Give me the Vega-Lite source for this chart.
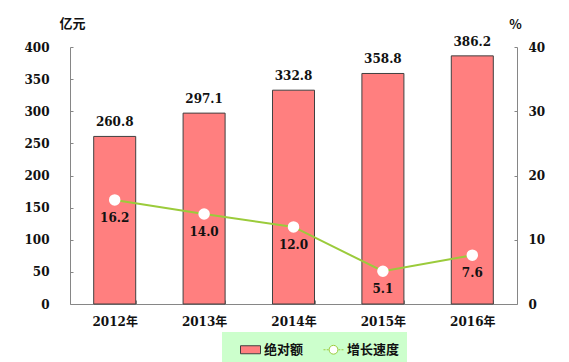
{
  "$schema": "https://vega.github.io/schema/vega-lite/v6.json",
  "width": 447,
  "height": 257,
  "autosize": "none",
  "padding": {"left": 70, "top": 47, "right": 52, "bottom": 58},
  "background": "white",
  "data": {"values": [
    {"year": "2012年", "amount": 260.8, "rate": 16.2},
    {"year": "2013年", "amount": 297.1, "rate": 14.0},
    {"year": "2014年", "amount": 332.8, "rate": 12.0},
    {"year": "2015年", "amount": 358.8, "rate": 5.1},
    {"year": "2016年", "amount": 386.2, "rate": 7.6}
  ]},
  "encoding": {
    "x": {
      "field": "year", "type": "nominal", "sort": null,
      "scale": {"paddingInner": 0.53, "paddingOuter": 0.265},
      "axis": {"title": null, "labelAngle": 0, "tickBand": "extent", "tickSize": -4, "labelPadding": 16}
    }
  },
  "layer": [
    {
      "encoding": {
        "y": {
          "field": "amount", "type": "quantitative",
          "scale": {"domain": [0, 400]},
          "axis": {
            "orient": "left", "values": [0, 50, 100, 150, 200, 250, 300, 350, 400],
            "tickSize": -3, "labelPadding": 24,
            "title": "亿元", "titleAngle": 0, "titleX": 2, "titleY": -24,
            "titleAlign": "center", "titleBaseline": "middle"
          }
        }
      },
      "layer": [
        {
          "mark": {"type": "bar", "fill": "#FF7F7F", "stroke": "#404040", "strokeWidth": 1},
          "encoding": {
            "opacity": {
              "datum": "绝对额", "type": "ordinal",
              "scale": {"domain": ["绝对额", "增长速度"], "range": [1, 1]},
              "legend": {
                "orient": "none", "legendX": 152, "legendY": 285,
                "direction": "horizontal", "title": null,
                "fillColor": "#CCFFCC", "padding": 7,
                "symbolSize": 400, "symbolOffset": 11,
                "labelFontSize": 13, "labelFont": "Noto Sans CJK SC",
                "labelFontWeight": "bold", "labelColor": "#111111", "columnPadding": 8, "labelOffset": 3,
                "encoding": {
                  "symbols": {
                    "shape": {"value": {"expr": "datum.value === '绝对额' ? 'M-1,-0.4H1V0.4H-1Z' : 'M-1,0H-0.8M-0.68,0H-0.5M0.5,0H0.68M0.8,0H1M0.44,0A0.44,0.44 0 1,1 -0.44,0A0.44,0.44 0 1,1 0.44,0Z'"}},
                    "fill": {"value": {"expr": "datum.value === '绝对额' ? '#FF7F7F' : '#FFFFFF'"}},
                    "stroke": {"value": {"expr": "datum.value === '绝对额' ? '#404040' : '#9BCB3B'"}},
                    "strokeWidth": {"value": 1},
                    "fillOpacity": {"value": 1},
                    "strokeOpacity": {"value": 1}
                  }
                }
              }
            }
          }
        },
        {
          "mark": {"type": "text", "baseline": "bottom", "dy": -7, "font": "DejaVu Serif", "fontWeight": "bold", "fontSize": 12, "color": "#111111"},
          "encoding": {"text": {"field": "amount", "type": "quantitative", "format": ".1f"}}
        }
      ]
    },
    {
      "encoding": {
        "y": {
          "field": "rate", "type": "quantitative",
          "scale": {"domain": [0, 40]},
          "axis": {
            "orient": "right", "values": [0, 10, 20, 30, 40],
            "tickSize": -3, "labelPadding": 14,
            "title": "%", "titleAngle": 0, "titleX": -2, "titleY": -23,
            "titleAlign": "center", "titleBaseline": "middle"
          }
        }
      },
      "layer": [
        {
          "mark": {"type": "line", "stroke": "#9BCB3B", "strokeWidth": 2},
          "encoding": {
            "opacity": {
              "datum": "增长速度", "type": "ordinal",
              "legend": {
                "orient": "none", "legendX": 152, "legendY": 285,
                "direction": "horizontal", "title": null,
                "fillColor": "#CCFFCC", "padding": 7,
                "symbolSize": 400, "symbolOffset": 11,
                "labelFontSize": 13, "labelFont": "Noto Sans CJK SC",
                "labelFontWeight": "bold", "labelColor": "#111111", "columnPadding": 8, "labelOffset": 3,
                "encoding": {
                  "symbols": {
                    "shape": {"value": {"expr": "datum.value === '绝对额' ? 'M-1,-0.4H1V0.4H-1Z' : 'M-1,0H-0.8M-0.68,0H-0.5M0.5,0H0.68M0.8,0H1M0.44,0A0.44,0.44 0 1,1 -0.44,0A0.44,0.44 0 1,1 0.44,0Z'"}},
                    "fill": {"value": {"expr": "datum.value === '绝对额' ? '#FF7F7F' : '#FFFFFF'"}},
                    "stroke": {"value": {"expr": "datum.value === '绝对额' ? '#404040' : '#9BCB3B'"}},
                    "strokeWidth": {"value": 1},
                    "fillOpacity": {"value": 1},
                    "strokeOpacity": {"value": 1}
                  }
                }
              }
            }
          }
        },
        {
          "mark": {"type": "point", "filled": true, "fill": "#FFFFFF", "stroke": "#FFFFFF", "size": 90, "opacity": 1}
        },
        {
          "mark": {"type": "text", "baseline": "middle", "dy": 18, "font": "DejaVu Serif", "fontWeight": "bold", "fontSize": 12, "color": "#111111"},
          "encoding": {"text": {"field": "rate", "type": "quantitative", "format": ".1f"}}
        }
      ]
    }
  ],
  "resolve": {"scale": {"y": "independent"}},
  "config": {
    "view": {"stroke": null},
    "axis": {
      "grid": false, "domainColor": "#868686", "tickColor": "#868686",
      "labelFont": "DejaVu Serif, Noto Sans CJK SC", "labelFontWeight": "bold", "labelFontSize": 12, "labelColor": "#111111",
      "titleFont": "Noto Sans CJK SC", "titleFontWeight": "bold", "titleFontSize": 13, "titleColor": "#111111"
    }
  }
}
